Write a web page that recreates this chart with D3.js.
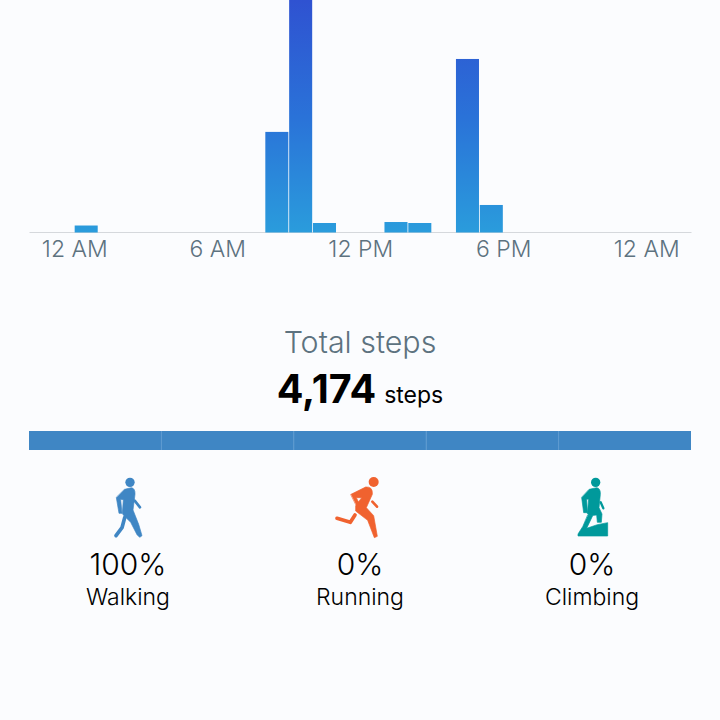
<!DOCTYPE html>
<html><head><meta charset="utf-8">
<script src="https://cdn.jsdelivr.net/npm/d3@7/dist/d3.min.js"></script>
<style>
html,body{margin:0;padding:0;background:#fbfcfe}
svg{display:block}
text{font-family:Inter,"Open Sans",sans-serif}
</style></head><body>
<div id="chart"></div>
<script>
const hours = [0, 8, 9, 10, 13, 14, 16, 17];
const steps = [50, 720, 1754, 68, 75, 68, 1242, 197];
const tickHours = [0, 6, 12, 18, 24];
const tickLabels = ["12 AM", "6 AM", "12 PM", "6 PM", "12 AM"];
const totalValue = 4174;
const segments = [0, 1, 2, 3, 4];
const activities = ["Walking", "Running", "Climbing"];
const shares = [100, 0, 0];
const activityColors = ["#3f86c4", "#f0622f", "#00999b"];

const svg = d3.select("#chart").append("svg").attr("width", 720).attr("height", 720);
const x = d3.scaleLinear().domain([-1.9, 25.88]).range([29, 691]);
const y = d3.scaleLinear().domain([0, 1664]).range([232.5, 0]);

const defs = svg.append("defs");
const grad = defs.append("linearGradient").attr("id", "barGrad")
  .attr("gradientUnits", "userSpaceOnUse").attr("x1", 0).attr("x2", 0).attr("y1", 0).attr("y2", 232.5);
grad.append("stop").attr("offset", 0).attr("stop-color", "#2f52d1");
grad.append("stop").attr("offset", 0.5).attr("stop-color", "#2a72d8");
grad.append("stop").attr("offset", 1).attr("stop-color", "#2a9cdc");

const axis = d3.axisBottom(x).tickValues(tickHours).tickSize(0).tickPadding(8.5)
  .tickFormat((d, i) => tickLabels[i]);
const ax = svg.append("g").attr("transform", "translate(0,232)").call(axis);
ax.select(".domain").attr("stroke", "#d5d8dc").attr("stroke-width", 1);
ax.selectAll("text").attr("font-size", 23).attr("fill", "#5d727f").attr("font-family", "Inter,sans-serif").attr("font-weight", 300);

const barW = x(1) - x(0) - 0.8;
svg.append("g").selectAll("rect").data(hours).join("rect")
  .attr("x", d => x(d) + 0.4)
  .attr("width", barW)
  .attr("y", (d, i) => y(steps[i]))
  .attr("height", (d, i) => y(0) - y(steps[i]))
  .attr("fill", "url(#barGrad)");

svg.append("text").attr("x", 360).attr("y", 353).attr("text-anchor", "middle")
  .attr("font-size", 30.4).attr("font-weight", 300).attr("fill", "#5d727f").text("Total steps");
const total = svg.append("text").attr("x", 360).attr("y", 403).attr("text-anchor", "middle").attr("fill", "#000");
total.append("tspan").attr("font-size", 39.5).attr("font-weight", 700).text(d3.format(",")(totalValue));
total.append("tspan").attr("font-size", 23).attr("font-weight", 400).attr("dx", 8).text("steps");

const band = d3.scaleBand().domain(segments).range([29, 691]);
svg.append("g").selectAll("rect").data(segments).join("rect")
  .attr("x", d => band(d)).attr("y", 431).attr("width", band.bandwidth()).attr("height", 19)
  .attr("fill", activityColors[0]);
svg.append("g").selectAll("line").data(segments.slice(1)).join("line")
  .attr("x1", d => band(d)).attr("x2", d => band(d)).attr("y1", 431).attr("y2", 450)
  .attr("stroke", "#5c9ad0").attr("stroke-width", 1);

const cols = d3.scalePoint().domain(activities).range([128, 592]);
const col = svg.append("g").selectAll("g").data(activities).join("g");
col.append("text").attr("x", d => cols(d)).attr("y", 575).attr("text-anchor", "middle")
  .attr("font-size", 30).attr("font-weight", 300).attr("fill", "#000").text((d, i) => shares[i] + "%");
col.append("text").attr("x", d => cols(d)).attr("y", 605).attr("text-anchor", "middle")
  .attr("font-size", 23).attr("font-weight", 300).attr("fill", "#000").text(d => d);

function figure(ox, oy, color, draw) {
  const g = svg.append("g").attr("transform", `translate(${ox},${oy}) scale(${1/3})`)
    .attr("fill", color).attr("stroke", color).attr("stroke-linecap", "round").attr("stroke-linejoin", "round");
  draw(g);
}
const fillPath = (g, d) => g.append("path").attr("d", d).attr("stroke-width", 2);
const strokePath = (g, d, w) => g.append("path").attr("d", d).attr("fill", "none").attr("stroke-width", w);
const head = (g, cx, cy, r) => g.append("circle").attr("cx", cx).attr("cy", cy).attr("r", r).attr("stroke", "none");

figure(90, 465, activityColors[0], g => {
  head(g, 120, 52, 14);
  fillPath(g, "M104 73 L124 68 Q136 70 135 88 L129 135 L146 178 L156 212 L149 217 L141 209 L122 172 L100 150 L97 145 L100 104 L92 103 L96 145 L87 145 L79 98 Z");
  strokePath(g, "M134 107 L150 127", 8);
  strokePath(g, "M104 158 L96 188 L78 212", 11);
});
figure(325, 465, activityColors[1], g => {
  head(g, 146, 51, 15);
  fillPath(g, "M78 88 L122 66 Q144 64 142 88 L124 128 L146 152 L157 214 L148 218 L128 166 L92 138 L92 122 L110 98 L94 98 L104 118 L94 120 Z");
  strokePath(g, "M142 110 L156 125", 8);
  strokePath(g, "M90 150 L76 172 L36 160", 11);
});
figure(560, 465, activityColors[2], g => {
  head(g, 107, 52, 14);
  fillPath(g, "M88 73 L110 68 Q122 70 121 88 L117 128 L126 147 L124 172 L112 172 L110 150 L90 152 L82 146 L86 102 L80 103 L82 143 L71 143 L65 98 Z");
  strokePath(g, "M122 112 L130 130", 7);
  fillPath(g, "M84 150 L98 152 L80 190 L112 179 L143 173 L143 213 L54 213 L54 207 L68 185 Z");
});
</script>
</body></html>
